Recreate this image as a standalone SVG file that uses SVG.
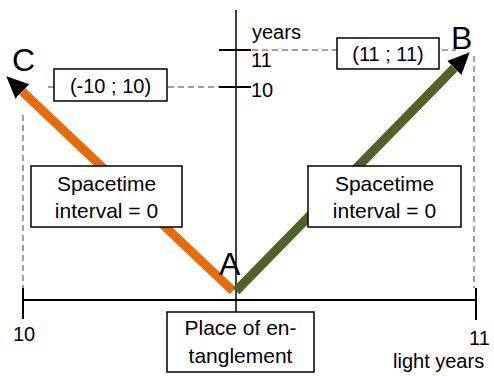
<svg xmlns="http://www.w3.org/2000/svg" width="494" height="376" viewBox="0 0 494 376">
<style>
text{font-family:"Liberation Sans",Arial,sans-serif;fill:#000}
.lbl{font-size:20px}
.box{font-size:21px;text-anchor:middle}
.big{font-size:32px}
.frame{fill:#fff;stroke:#000;stroke-width:1.5}
.axis{stroke:#000;stroke-width:2;fill:none}
.dash{stroke:#808080;stroke-width:1.5;stroke-dasharray:6 4;fill:none}
</style>
<defs>
<marker id="ah" markerUnits="userSpaceOnUse" markerWidth="24" markerHeight="22" viewBox="0 0 24 22" refX="0" refY="11" orient="auto">
<path d="M0,1 L22,11 L0,21 z" fill="#000"/>
</marker>
</defs>
<g id="axes">
<line class="axis" x1="236" y1="10" x2="236" y2="312" style="stroke-width:1.5"/>
<line class="axis" x1="23" y1="300" x2="476" y2="300"/>
<line class="axis" x1="23" y1="288" x2="23" y2="319"/>
<line class="axis" x1="476" y1="288" x2="476" y2="320"/>
<line class="axis" x1="219" y1="50" x2="251" y2="50"/>
<line class="axis" x1="219" y1="87" x2="251" y2="87"/>
<text class="lbl" x="252" y="39">years</text>
<text class="lbl" x="251" y="67">11</text>
<text class="lbl" x="251" y="97">10</text>
<text class="lbl" x="13" y="341">10</text>
<text class="lbl" x="469" y="345">11</text>
<text class="lbl" x="393" y="368">light years</text>
</g>
<g id="connectors">
<line class="dash" x1="252" y1="50" x2="456" y2="50"/>
<line class="dash" x1="48" y1="87" x2="219" y2="87"/>
<line class="dash" x1="23" y1="115" x2="23" y2="288"/>
<line class="dash" x1="474" y1="56" x2="474" y2="288"/>
<line x1="233" y1="291" x2="22.3" y2="91.4" stroke="#E46C0A" stroke-width="9" marker-end="url(#ah)"/>
<line x1="236" y1="291" x2="454.3" y2="68" stroke="#4F6228" stroke-width="9" marker-end="url(#ah)"/>
</g>
<g id="C"><text class="big" x="12" y="71">C</text></g>
<g id="B"><text class="big" x="451" y="49">B</text></g>
<g id="A"><text class="big" x="219" y="275">A</text></g>
<g id="coordC">
<rect class="frame" x="54" y="69" width="113" height="32"/>
<text class="lbl" x="110.5" y="93" text-anchor="middle">(-10 ; 10)</text>
</g>
<g id="coordB">
<rect class="frame" x="337" y="38" width="102" height="31"/>
<text class="lbl" x="388" y="61" text-anchor="middle">(11 ; 11)</text>
</g>
<g id="intervalLeft">
<rect class="frame" x="31" y="166" width="151" height="61"/>
<text class="box" x="106.5" y="191">Spacetime</text>
<text class="box" x="106.5" y="218">interval = 0</text>
</g>
<g id="intervalRight">
<rect class="frame" x="308" y="166" width="153" height="61"/>
<text class="box" x="384.5" y="191">Spacetime</text>
<text class="box" x="384.5" y="218">interval = 0</text>
</g>
<g id="place">
<rect class="frame" x="167" y="312" width="147" height="60"/>
<text class="box" x="240.5" y="335">Place of en-</text>
<text class="box" x="240.5" y="363">tanglement</text>
</g>
</svg>
